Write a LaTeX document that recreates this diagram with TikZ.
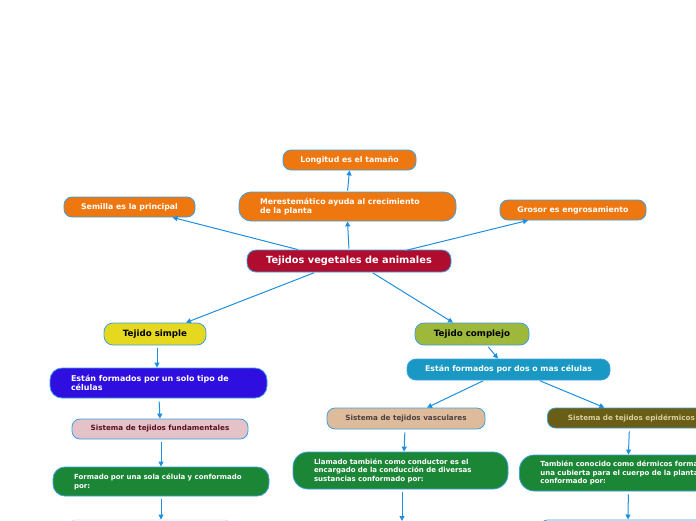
\documentclass[tikz,border=0pt]{standalone}
\usepackage{fontspec}
\setmainfont{DejaVu Sans}
\usetikzlibrary{arrows.meta}
\definecolor{cOrange}{HTML}{EE780F}
\definecolor{cCrimson}{HTML}{B00C2E}
\definecolor{cYellow}{HTML}{E6D81E}
\definecolor{cOlive}{HTML}{9DB83B}
\definecolor{cViolet}{HTML}{2F0FE0}
\definecolor{cTeal}{HTML}{1898C2}
\definecolor{cPink}{HTML}{E3C2C8}
\definecolor{cTan}{HTML}{DEBB9B}
\definecolor{cDkOlive}{HTML}{6A5D15}
\definecolor{cGreen}{HTML}{1B8636}
\definecolor{cBord}{HTML}{3DA0E0}
\definecolor{cArrow}{HTML}{1E8FE0}
\definecolor{cMaroon}{HTML}{5A1020}
\definecolor{cGrayTxt}{HTML}{4A4040}
\definecolor{cTanTxt}{HTML}{D9D0A0}
\definecolor{cLight}{HTML}{D6E6F2}
\tikzset{
  box/.style={draw=cBord, line width=0.8pt, rounded corners=8pt, inner sep=0pt, text=white, font=\bfseries\fontsize{7.8}{9.5}\selectfont},
  wide/.style={align=left, inner xsep=21pt},
  small/.style={font=\bfseries\fontsize{7.2}{8}\selectfont},
  arr/.style={draw=cArrow, line width=1pt, -{Triangle[length=5pt,width=5pt]}},
}
\begin{document}
\begin{tikzpicture}[x=1pt,y=-1pt]
\useasboundingbox (0,0) rectangle (696,520);
\clip (0,0) rectangle (696,520);

% top level
\node[box, fill=cCrimson, minimum width=204pt, minimum height=22pt, rounded corners=9pt, font=\bfseries\fontsize{9.8}{11}\selectfont] (cen) at (349,261) {Tejidos vegetales de animales};
\node[box, fill=cOrange, minimum width=133pt, minimum height=20pt] (lon) at (349.5,160) {Longitud es el tamaño};
\node[box, fill=cOrange, wide, text width=175pt, minimum height=29pt, rounded corners=12pt] (mer) at (347.5,206.5) {Merestemático ayuda al crecimiento\\de la planta};
\node[box, fill=cOrange, minimum width=131pt, minimum height=20pt] (sem) at (129.5,207) {Semilla es la principal};
\node[box, fill=cOrange, minimum width=146pt, minimum height=20pt] (gro) at (573,210) {Grosor es engrosamiento};

% second level
\node[box, fill=cYellow, text=black, minimum width=102pt, minimum height=22pt, rounded corners=9pt, font=\bfseries\fontsize{8.7}{10}\selectfont] (sim) at (155,334) {Tejido simple};
\node[box, fill=cOlive, text=black, minimum width=114pt, minimum height=22pt, rounded corners=9pt, font=\bfseries\fontsize{8.7}{10}\selectfont] (com) at (472,334) {Tejido complejo};

\node[box, fill=cViolet, wide, text width=175pt, minimum height=30pt, rounded corners=12pt, font=\bfseries\fontsize{8}{9}\selectfont] (sol) at (158.5,383) {Están formados por un solo tipo de\\células};
\node[box, fill=cTeal, minimum width=203pt, minimum height=21pt, rounded corners=9pt] (dos) at (508.5,369.5) {Están formados por dos o mas células};

\node[box, small, fill=cPink, text=cMaroon, minimum width=176pt, minimum height=20pt] (fun) at (160,429) {Sistema de tejidos fundamentales};
\node[box, small, fill=cTan, text=cGrayTxt, minimum width=158pt, minimum height=21pt] (vas) at (406,418.5) {Sistema de tejidos vasculares};
\node[box, small, fill=cDkOlive, text=cTanTxt, minimum width=168pt, minimum height=20pt, anchor=west, text width=168pt, align=center] (epi) at (547,418) {Sistema de tejidos epidérmicos};

\node[box, small, fill=cGreen, wide, text width=174pt, minimum height=29pt, rounded corners=12pt, font=\bfseries\fontsize{7}{9}\selectfont] (for) at (161,481.5) {Formado por una sola célula y conformado\\por:};
\node[box, small, fill=cGreen, wide, text width=173pt, minimum height=37pt, rounded corners=15pt, font=\bfseries\fontsize{7}{8.5}\selectfont] (lla) at (400.5,470.5) {Llamado también como conductor es el\\encargado de la conducción de diversas\\sustancias conformado por:};
\node[box, small, fill=cGreen, wide, text width=173pt, minimum height=36pt, rounded corners=15pt, font=\bfseries\fontsize{7}{8.5}\selectfont, anchor=west] (tam) at (519,473) {También conocido como dérmicos forma\\una cubierta para el cuerpo de la planta\\conformado por:};

% cut-off boxes at the bottom
\node[draw=cLight, fill=white, line width=0.8pt, rounded corners=8pt, minimum width=164pt, minimum height=20pt, anchor=north] (b1) at (150,519.5) {};
\node[draw=none, minimum width=160pt, minimum height=20pt, anchor=north] (b2) at (402,521) {};
\node[draw=cBord, fill=white, line width=0.8pt, rounded corners=8pt, minimum width=200pt, minimum height=20pt, anchor=north] (b3) at (640,519.5) {};

% connectors
\draw[arr, shorten <=1pt] (cen.north) -- (mer.south);
\draw[arr, shorten <=1pt] (mer.north) -- (lon.south);
\draw[arr] ([xshift=-51pt]cen.north) -- ([xshift=43pt]sem.south);
\draw[arr] ([xshift=56pt,yshift=-1pt]cen.north) -- ([xshift=-45pt]gro.south);
\draw[arr, shorten <=1pt] ([xshift=-34pt]cen.south) -- ([xshift=31pt]sim.north);
\draw[arr, shorten <=1pt] ([xshift=23pt]cen.south) -- ([xshift=-19pt]com.north);
\draw[arr, shorten <=3pt] ([xshift=2pt]sim.south) -- ([xshift=-1.5pt]sol.north);
\draw[arr, shorten <=2pt] ([xshift=15pt]com.south) -- ([xshift=-10.5pt]dos.north);
\draw[arr, shorten <=1pt] ([xshift=-24.5pt]dos.south) -- ([xshift=21pt]vas.north);
\draw[arr, shorten <=1pt] ([xshift=30.5pt]dos.south) -- ([xshift=-27pt]epi.north);
\draw[arr, shorten <=3pt] ([xshift=0.5pt]sol.south) -- (fun.north);
\draw[arr, shorten <=3pt] ([xshift=1pt]fun.south) -- (for.north);
\draw[arr, shorten <=3pt] ([xshift=-1pt]vas.south) -- ([xshift=3.5pt]lla.north);
\draw[arr, shorten <=3pt] ([xshift=-2pt]epi.south) -- ([xshift=1.5pt]tam.north);
\draw[arr, shorten <=3pt] (for.south) -- ([xshift=11pt]b1.north);
\draw[arr, shorten <=3pt] ([xshift=1.5pt]lla.south) -- (b2.north);
\draw[arr, shorten <=3pt] ([xshift=1.5pt]tam.south) -- ([xshift=-12pt]b3.north);
\end{tikzpicture}
\end{document}
